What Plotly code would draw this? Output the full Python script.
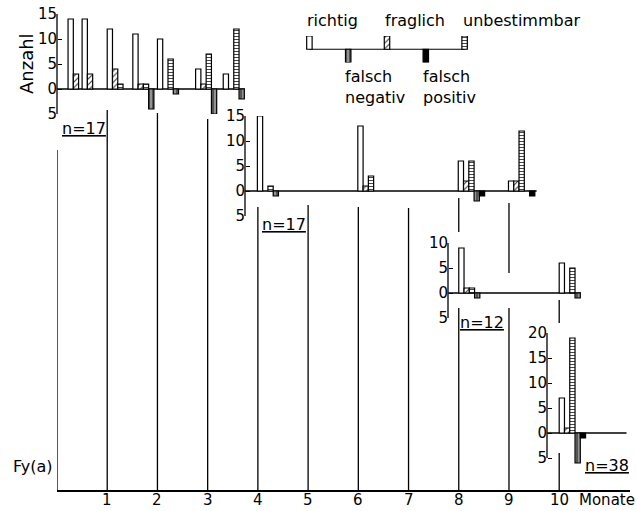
import plotly.graph_objects as go

W, H = 636, 511

def fx(p):
    return p / W

def fy(p):
    return 1 - p / H

# ---------------- data ----------------
categories = ["richtig", "fraglich", "unbestimmbar", "falsch negativ", "falsch positiv"]
signs = [1, 1, 1, -1, -1]
month_ticks = [1, 2, 3, 4, 5, 6, 7, 8, 9, 10]
y_ticks_15 = [15, 10, 5, 0, -5]
y_ticks_10 = [10, 5, 0, -5]
y_ticks_20 = [20, 15, 10, 5, 0, -5]

# Panel 1 (n=17)
p1_months = [0.22, 0.5, 1.0, 1.51, 2.0, 2.76, 3.31]
p1_richtig = [14, 14, 12, 11, 10, 4, 3]
p1_fraglich = [3, 3, 4, 1, 0, 1, 0]
p1_unbest = [0, 0, 1, 1, 6, 7, 12]
p1_fneg = [0, 0, 0, 4, 1, 5, 2]
p1_fpos = [0, 0, 0, 0, 0, 0, 0]

# Panel 2 (n=17)
p2_months = [3.99, 5.99, 7.99, 8.99]
p2_richtig = [15, 13, 6, 2]
p2_fraglich = [0, 1, 2, 2]
p2_unbest = [1, 3, 6, 12]
p2_fneg = [1, 0, 2, 0]
p2_fpos = [0, 0, 1, 1]

# Panel 3 (n=12)
p3_months = [8.0, 10.0]
p3_richtig = [9, 6]
p3_fraglich = [1, 0]
p3_unbest = [1, 5]
p3_fneg = [1, 1]
p3_fpos = [0, 0]

# Panel 4 (n=38)
p4_months = [10.0]
p4_richtig = [7]
p4_fraglich = [1]
p4_unbest = [19]
p4_fneg = [6]
p4_fpos = [1]

legend_order = ["richtig", "falsch negativ", "fraglich", "falsch positiv", "unbestimmbar"]
panel_labels = ["n=17", "n=17", "n=12", "n=38"]

# ---------------- styles ----------------
styles = {
    "richtig": dict(color="white", line=dict(color="black", width=1.2)),
    "fraglich": dict(color="white", line=dict(color="black", width=1.2),
                     pattern=dict(shape="/", fgcolor="#333", bgcolor="white", size=4, solidity=0.25)),
    "unbestimmbar": dict(color="white", line=dict(color="black", width=1.2),
                         pattern=dict(shape="-", fgcolor="#333", bgcolor="white", size=3, solidity=0.3)),
    "falsch negativ": dict(color="#777", line=dict(color="black", width=1.2),
                           pattern=dict(shape="|", fgcolor="#bbb", bgcolor="#555", size=4, solidity=0.3)),
    "falsch positiv": dict(color="black", line=dict(color="black", width=1.2)),
}

slot_w = 0.105  # month width of one bar slot

panels = [
    dict(months=p1_months, vals=[p1_richtig, p1_fraglich, p1_unbest, p1_fneg, p1_fpos],
         yaxis="y2", zero_px=89, lo=-5, hi=15, ticks=y_ticks_15, axis_px=57,
         line_x=(0.0, 3.74), label_px=(84, 128)),
    dict(months=p2_months, vals=[p2_richtig, p2_fraglich, p2_unbest, p2_fneg, p2_fpos],
         yaxis="y3", zero_px=191, lo=-5, hi=15, ticks=y_ticks_15, axis_px=245,
         line_x=(3.74, 9.55), label_px=(284, 224)),
    dict(months=p3_months, vals=[p3_richtig, p3_fraglich, p3_unbest, p3_fneg, p3_fpos],
         yaxis="y4", zero_px=293, lo=-5, hi=10, ticks=y_ticks_10, axis_px=448,
         line_x=(7.79, 10.43), label_px=(482, 322)),
    dict(months=p4_months, vals=[p4_richtig, p4_fraglich, p4_unbest, p4_fneg, p4_fpos],
         yaxis="y5", zero_px=433, lo=-6.6, hi=20, ticks=y_ticks_20, axis_px=547,
         line_x=(9.76, 11.34), label_px=(607, 465)),
]
PX_PER_UNIT = 5.0

fig = go.Figure()
shapes = []
annotations = []
layout_axes = {}

# anchor trace for the main month axis
fig.add_trace(go.Scatter(x=month_ticks, y=[0] * len(month_ticks), mode="markers",
                         marker=dict(size=1, opacity=0), xaxis="x", yaxis="y", hoverinfo="skip"))

for i, p in enumerate(panels):
    for k, cat in enumerate(categories):
        xs, ys = [], []
        for m, v in zip(p["months"], p["vals"][k]):
            if v:
                xs.append(m + (k + 0.5) * slot_w)
                ys.append(signs[k] * v)
        if xs:
            fig.add_trace(go.Bar(x=xs, y=ys, width=[slot_w] * len(xs), marker=styles[cat],
                                 xaxis="x", yaxis=p["yaxis"], hoverinfo="skip"))
    top_px = p["zero_px"] - PX_PER_UNIT * p["hi"]
    bot_px = p["zero_px"] - PX_PER_UNIT * p["lo"]
    name = "yaxis" + p["yaxis"][1:]
    layout_axes[name] = dict(
        domain=[fy(bot_px), fy(top_px)], range=[p["lo"], p["hi"]], anchor="free",
        position=fx(p["axis_px"]), side="left", showline=False, showgrid=False, zeroline=False,
        ticks="inside", ticklen=4, tickwidth=1, tickcolor="black", automargin=False,
        tickmode="array", tickvals=p["ticks"], ticktext=[str(abs(t)) for t in p["ticks"]],
        tickfont=dict(size=15, color="black"), fixedrange=True)
    # y-axis line from -5 to top
    shapes.append(dict(type="line", xref="paper", yref=p["yaxis"], x0=fx(p["axis_px"]), x1=fx(p["axis_px"]),
                       y0=-5, y1=p["hi"], line=dict(color="black", width=1.3)))
    # zero line
    shapes.append(dict(type="line", xref="x", yref=p["yaxis"], x0=p["line_x"][0], x1=p["line_x"][1],
                       y0=0, y1=0, line=dict(color="black", width=1.3), layer="below"))
    annotations.append(dict(text="<u>" + panel_labels[i] + "</u>", x=fx(p["label_px"][0]), y=fy(p["label_px"][1]),
                            xanchor="center", font=dict(size=16)))

# vertical month lines (month, top px, bottom px)
month_segments = [
    (0, 150, 490), (1, 110, 490), (2, 113, 490), (3, 119, 490), (4, 207, 490),
    (5, 205, 490), (6, 207, 490), (7, 208, 490), (8, 198, 232), (8, 308, 490),
    (9, 203, 273), (9, 308, 490), (10, 300, 323), (10, 453, 490),
]
for m, t, b in month_segments:
    shapes.append(dict(type="line", xref="x", yref="paper", x0=m, x1=m, y0=fy(b), y1=fy(t),
                       line=dict(color="black", width=1.3), layer="below"))

# month tick labels placed on the month scale
for m in month_ticks:
    annotations.append(dict(text=str(m), x=m, xref="x", y=fy(500), xanchor="center",
                            font=dict(size=15)))

# legend mini chart
for j, cat in enumerate(legend_order):
    k = categories.index(cat)
    fig.add_trace(go.Bar(x=[j], y=[signs[k]], width=[0.14], marker=styles[cat],
                         xaxis="x2", yaxis="y6", hoverinfo="skip"))
shapes.append(dict(type="line", xref="x2", yref="y6", x0=0, x1=4, y0=0, y1=0,
                   line=dict(color="black", width=1.2), layer="below"))

x_left, x_right = 57, 630
months_per_px = 1 / 50.22
fig.update_layout(
    template="none",
    width=W, height=H, margin=dict(l=0, r=0, t=0, b=0, autoexpand=False),
    paper_bgcolor="white", plot_bgcolor="rgba(0,0,0,0)",
    showlegend=False, barmode="overlay",
    font=dict(family="DejaVu Sans", size=16, color="black"),
    xaxis=dict(domain=[fx(x_left), fx(x_right)], range=[0, (x_right - x_left) * months_per_px],
               anchor="y", showline=True, linecolor="black", linewidth=1.5, showgrid=False, zeroline=False,
               ticks="", showticklabels=False, automargin=False, fixedrange=True),
    yaxis=dict(domain=[fy(490), 1], range=[0, 1], visible=False, automargin=False, fixedrange=True),
    xaxis2=dict(domain=[fx(290), fx(484)], range=[-0.5, 4.5], visible=False, anchor="y6",
                automargin=False, fixedrange=True),
    yaxis6=dict(domain=[fy(62.5), fy(36)], range=[-1, 1], visible=False, anchor="x2",
                automargin=False, fixedrange=True),
    shapes=shapes,
)
fig.update_layout(**layout_axes)

# texts
annotations += [
    dict(text="Anzahl", x=fx(26), y=fy(64), textangle=-90, xanchor="center", font=dict(size=18)),
    dict(text="Fy(a)", x=fx(55), y=fy(466), xanchor="right", font=dict(size=16)),
    dict(text="Monate", x=fx(577), y=fy(500), xanchor="left", font=dict(size=15)),
    dict(text="richtig", x=fx(305), y=fy(21), xanchor="left", font=dict(size=16)),
    dict(text="fraglich", x=fx(383), y=fy(21), xanchor="left", font=dict(size=16)),
    dict(text="unbestimmbar", x=fx(461), y=fy(21), xanchor="left", font=dict(size=16)),
    dict(text="falsch<br>negativ", x=fx(343), y=fy(87), xanchor="left", align="left", font=dict(size=16)),
    dict(text="falsch<br>positiv", x=fx(421), y=fy(87), xanchor="left", align="left", font=dict(size=16)),
]
for a in annotations:
    a.setdefault("xref", "paper")
    a.setdefault("yref", "paper")
    a.setdefault("showarrow", False)
    a.setdefault("yanchor", "middle")
fig.update_layout(annotations=annotations)

fig.write_html("out.html")
